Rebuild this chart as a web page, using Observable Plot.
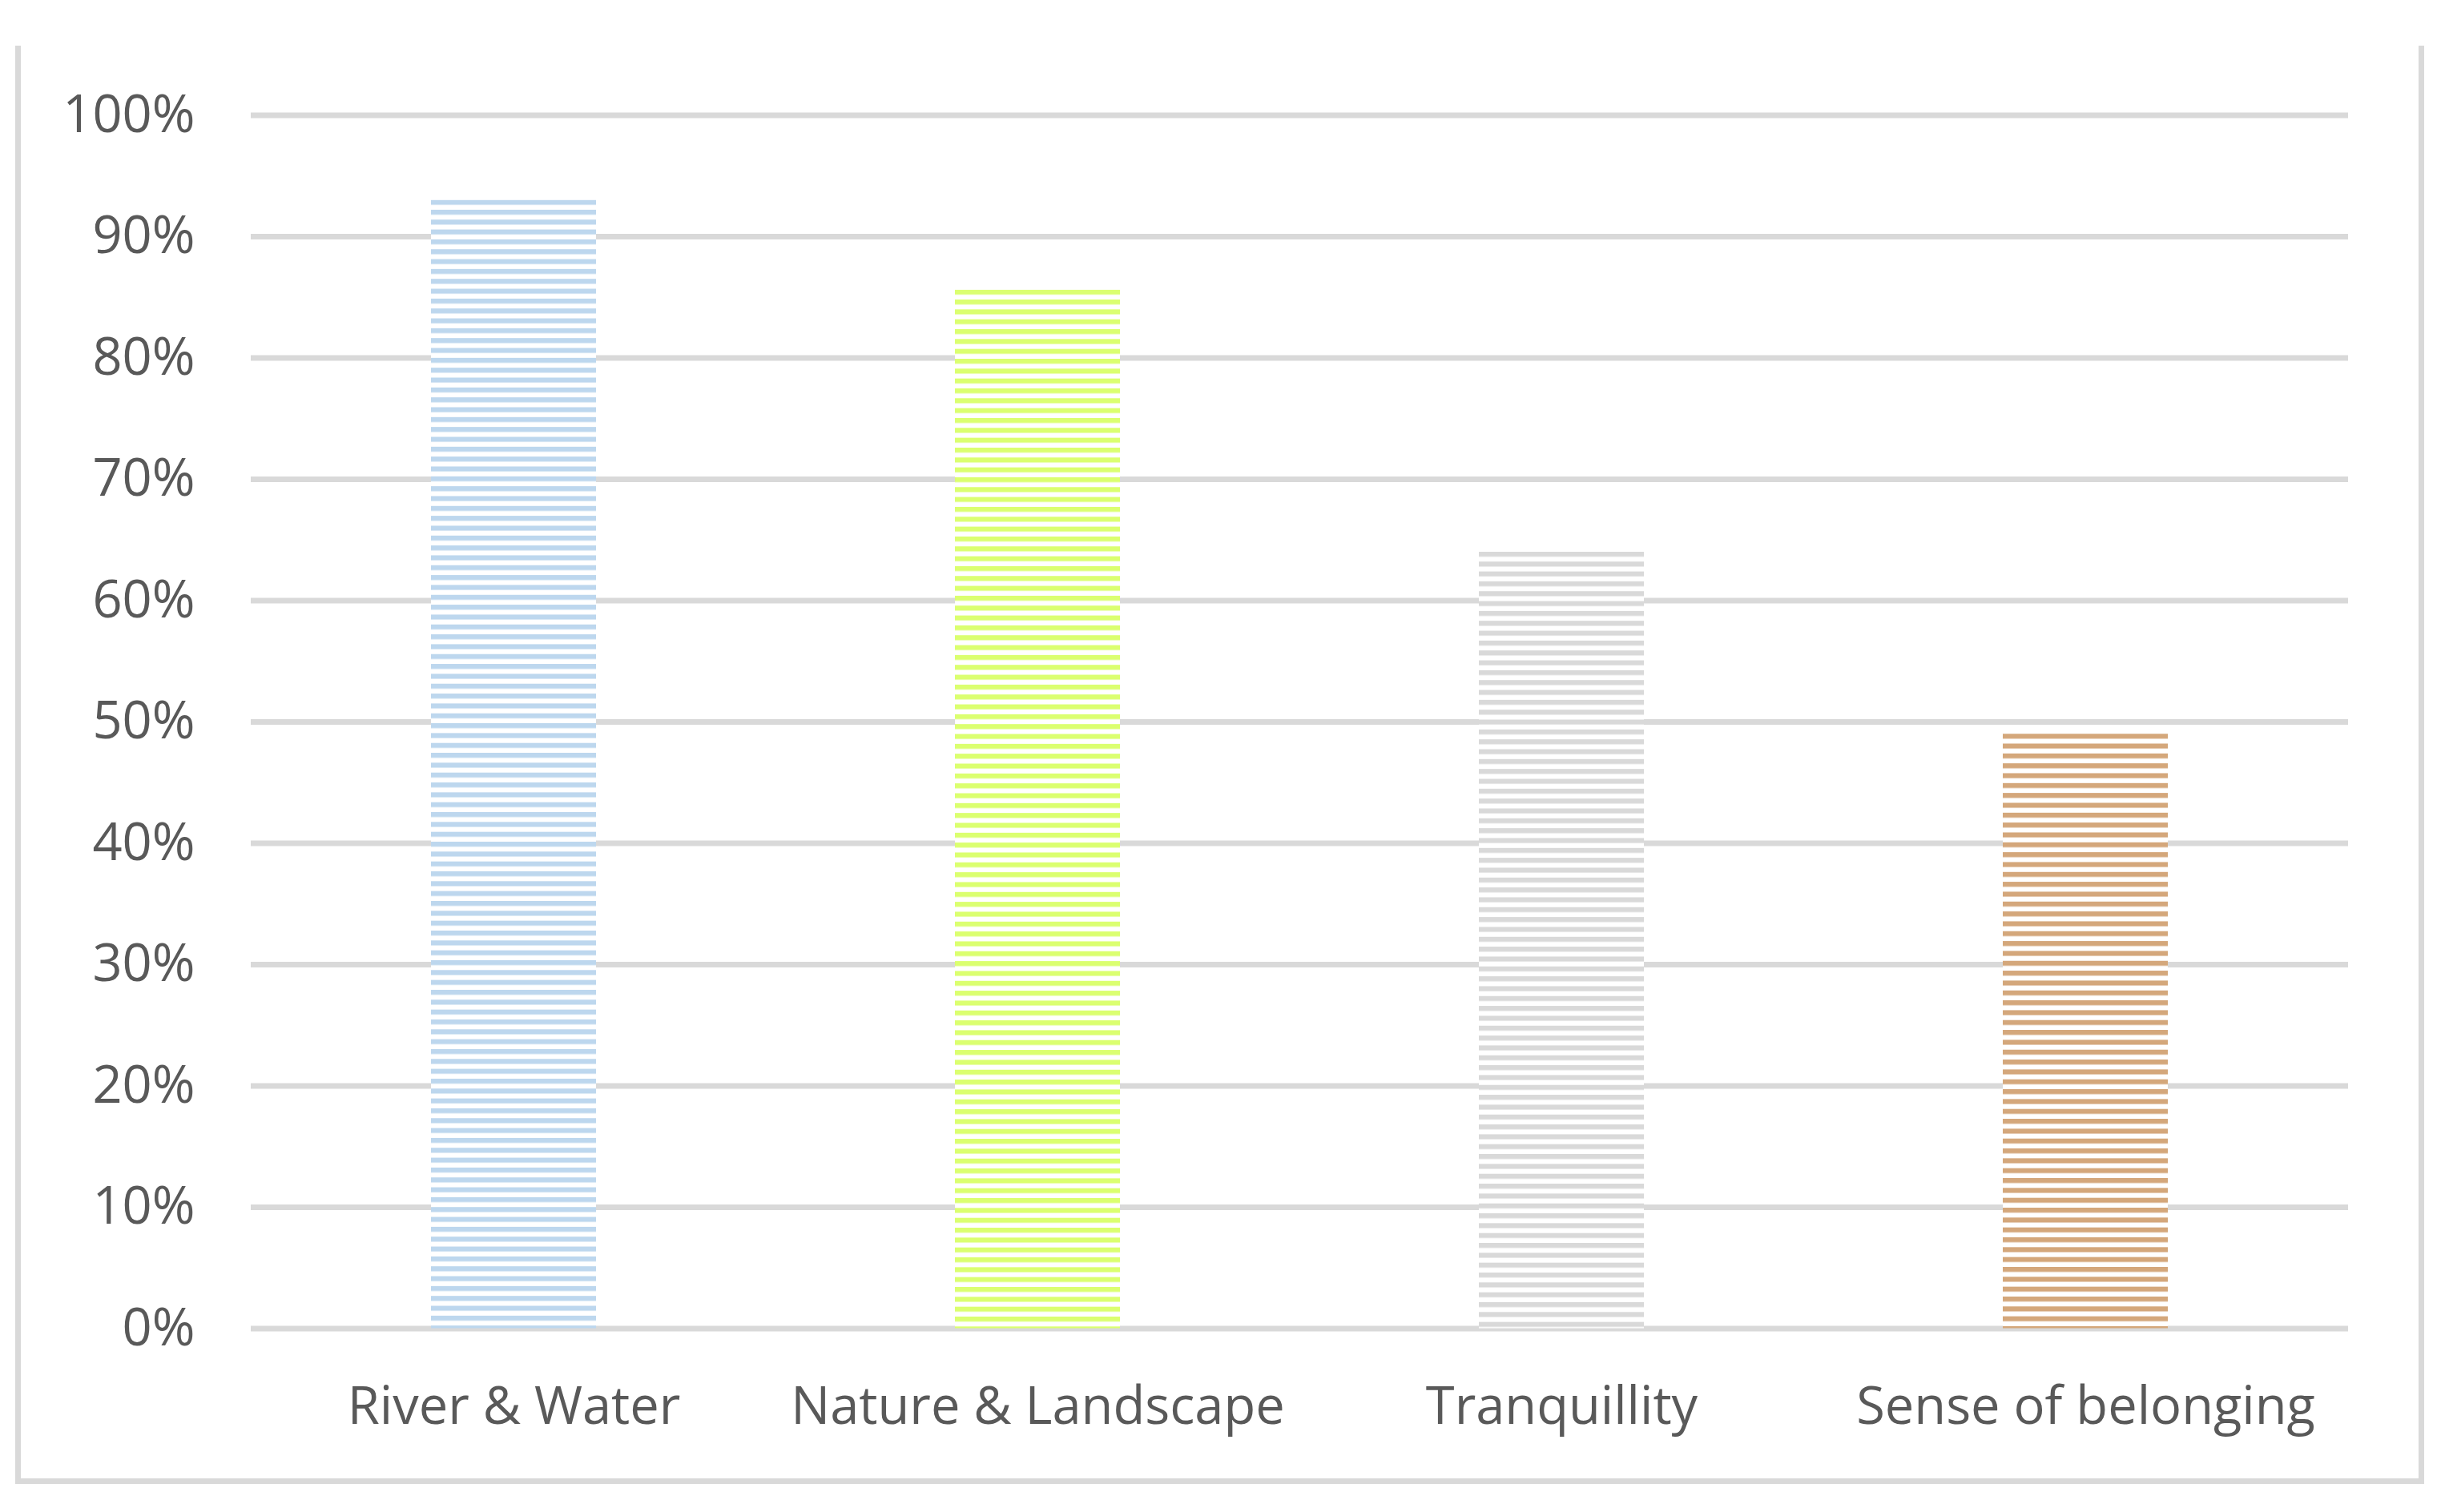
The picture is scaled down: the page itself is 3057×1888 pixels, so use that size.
<!DOCTYPE html>
<html>
<head>
<meta charset="utf-8">
<script src="https://cdn.jsdelivr.net/npm/d3@7"></script>
<script src="https://cdn.jsdelivr.net/npm/@observablehq/plot@0.6"></script>
<style>
  html, body { margin: 0; padding: 0; background: #fff; }
  #wrap { position: relative; width: 3057px; height: 1888px; overflow: hidden; }
  #frame { position: absolute; left: 19px; top: 57px; width: 2993px; height: 1789px;
           border: 7px solid #d9d9d9; border-top: none; }
  #chart { position: absolute; left: 0; top: 0; }
</style>
</head>
<body>
<div id="wrap">
  <div id="frame"></div>
  <div id="chart"></div>
</div>
<script>
const categories = ["River & Water", "Nature & Landscape", "Tranquillity", "Sense of belonging"];
const values = [0.93, 0.856, 0.64, 0.49];
const colors = ["#bdd7ee", "#dbff70", "#d9d9d9", "#d4a77b"];
const yTicks = [0, 0.1, 0.2, 0.3, 0.4, 0.5, 0.6, 0.7, 0.8, 0.9, 1.0];

const data = categories.map((c, i) => ({category: c, value: values[i]}));
const patternIds = categories.map((c, i) => `stripes${i}`);

const chart = Plot.plot({
  width: 3057,
  height: 1888,
  marginLeft: 313,
  marginRight: 126,
  marginTop: 143.5,
  marginBottom: 229.5,
  style: {fontFamily: "'Open Sans', sans-serif", fontSize: "65px", color: "#595959", background: "transparent"},
  x: {domain: categories, paddingInner: 0.685, paddingOuter: 0.3425, label: null, tickSize: 0, tickPadding: 73},
  y: {domain: [0, 1], ticks: yTicks, tickFormat: d3.format(".0%"), label: null, tickSize: 0, tickPadding: 70},
  color: {type: "ordinal", domain: categories, range: patternIds.map(id => `url(#${id})`)},
  marks: [
    Plot.gridY(yTicks, {stroke: "#d9d9d9", strokeWidth: 7, strokeOpacity: 1}),
    Plot.barY(data, {x: "category", y: "value", fill: "category"})
  ]
});

// stripe patterns (horizontal narrow stripes on white)
const ns = "http://www.w3.org/2000/svg";
const defs = document.createElementNS(ns, "defs");
const yScale = chart.scale("y");
const period = 12.33;
categories.forEach((c, i) => {
  const p = document.createElementNS(ns, "pattern");
  p.setAttribute("id", patternIds[i]);
  p.setAttribute("patternUnits", "userSpaceOnUse");
  p.setAttribute("x", 0);
  p.setAttribute("y", yScale.apply(values[i]));
  p.setAttribute("width", 20);
  p.setAttribute("height", period);
  const bg = document.createElementNS(ns, "rect");
  bg.setAttribute("width", 20); bg.setAttribute("height", period); bg.setAttribute("fill", "#ffffff");
  const st = document.createElementNS(ns, "rect");
  st.setAttribute("width", 20); st.setAttribute("height", 6.2); st.setAttribute("fill", colors[i]);
  p.appendChild(bg); p.appendChild(st);
  defs.appendChild(p);
});
chart.insertBefore(defs, chart.firstChild);

document.getElementById("chart").appendChild(chart);
</script>
</body>
</html>
